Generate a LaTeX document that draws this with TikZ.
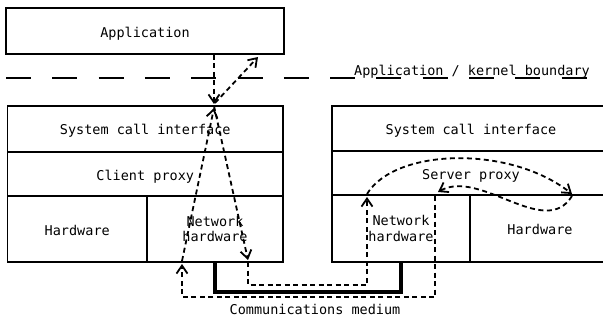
\documentclass[tikz,border=0pt]{standalone}
\usepackage{fontspec}
\setmonofont{DejaVu Sans Mono}
\usetikzlibrary{arrows.meta}
\begin{document}
\begin{tikzpicture}[x=1pt,y=-1pt,
  font=\ttfamily\fontsize{13.5}{17.5}\selectfont,
  box/.style 2 args={draw, line width=1.8pt, inner sep=0pt, minimum width=#1, minimum height=#2,
     text height=12pt, text depth=0pt},
  twoline/.style={text height=, text depth=, align=center,
     font=\ttfamily\fontsize{13.5}{15.5}\selectfont},
  boundary/.style={line width=1.8pt, dash pattern=on 25pt off 21.3pt},
  medium/.style={line width=4.5pt},
  flow/.style={line width=1.8pt, dash pattern=on 5pt off 3.5pt,
     -{Straight Barb[length=8pt,width=11pt]}},
  lbl/.style={anchor=base, inner sep=0pt}]
\useasboundingbox (0,0) rectangle (603,321);
\clip (0,0) rectangle (603,321);

% boxes
\node[box={278pt}{46pt}, text height=13pt] (app) at (145,31) {Application};
\node[box={275.5pt}{46pt}] (lsc) at (145.25,129) {System call interface};
\node[box={275.5pt}{44pt}] (lcp) at (145.25,174) {Client proxy};
\node[box={139.5pt}{66pt}] (lhw) at (77.25,229) {Hardware};
\node[box={136pt}{66pt}, twoline] (lnh) at (215,229) {Network\\hardware};
\node[box={278pt}{45pt}] (rsc) at (471,128.5) {System call interface};
\node[box={278pt}{44pt}] (rsp) at (471,173) {Server proxy};
\node[box={138pt}{67pt}, twoline] (rnh) at (401,228.5) {Network\\hardware};
\node[box={140pt}{67pt}] (rhw) at (540,228.5) {Hardware};

% application / kernel boundary
\coordinate (bl) at (6,78);
\coordinate (br) at (612,78);
\draw[boundary] (bl) -- (br);
\node[lbl] (bnd) at (472,75.5) {Application / kernel boundary};

% communications medium
\draw[medium] (lnh.south) -- ++(0,29) -| (rnh.south);
\node[lbl] (cm) at (315,314) {Communications medium};

% flow coordinates
\coordinate (ka) at (214,104);
\coordinate (kb) at (215,103);
\coordinate (kc) at (214,106);
\coordinate (kg) at (214,108);
\coordinate (ret) at (258,57);
\coordinate (c1) at (248,260);
\coordinate (c2) at (248,262);
\coordinate (c3) at (248,285);
\coordinate (c4) at (367,285);
\coordinate (c5) at (367,197);
\coordinate (d0) at (367,194);
\coordinate (d1) at (572,194);
\coordinate (e0) at (572,196);
\coordinate (e1) at (438,192);
\coordinate (f0) at (435,196);
\coordinate (f1) at (435,297);
\coordinate (f2) at (182,297);
\coordinate (f3) at (182,264);
\coordinate (g0) at (182,261);

% flows
\draw[flow] (app.south -| ka) -- (ka);
\draw[flow] (kb) -- (ret);
\draw[flow] (kc) -- (c1);
\draw[flow] (c2) -- (c3) -- (c4) -- (c5);
\draw[flow] (d0) .. controls (395,148) and (510,145) .. (d1);
\draw[flow] (e0) .. controls (545,240) and (480,168) .. (e1);
\draw[flow] (f0) -- (f1) -- (f2) -- (f3);
\draw[flow] (g0) -- (kg);
\end{tikzpicture}
\end{document}
